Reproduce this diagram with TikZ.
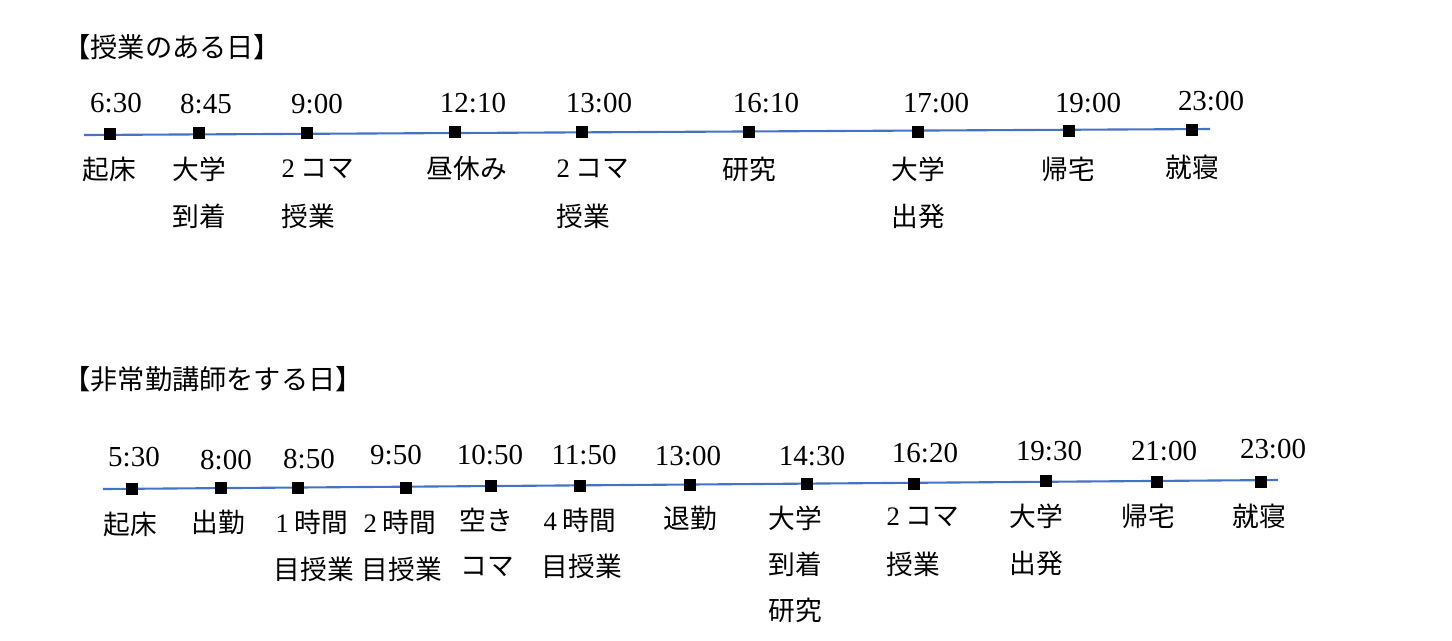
\documentclass[tikz,border=0pt]{standalone}
\usepackage{fontspec}
\setmainfont{Liberation Serif}
\newfontfamily\jp{Noto Sans CJK JP}
\definecolor{lineblue}{HTML}{4472C4}
\tikzset{
  tl/.style={line width=1.2pt,draw=lineblue},
  mk/.style={fill=black,draw=none,minimum size=0.25cm,inner sep=0pt,rectangle},
  tm/.style={font=\fontsize{16.5}{18}\selectfont,inner sep=0pt,anchor=center},
  lb/.style={font=\fontsize{15.2}{18}\selectfont\jp,inner sep=0pt,anchor=center},
  ttl/.style={font=\fontsize{15.5}{18}\selectfont\jp,inner sep=0pt,anchor=west}
}
\newcommand{\dg}[1]{{\fontspec{Liberation Serif}#1}}
\begin{document}
\begin{tikzpicture}[x=0.02cm,y=-0.02cm]
\useasboundingbox (0,0) rectangle (1452,640);
% ---------- top ----------
\node[ttl] (t1) at (63,47) {【授業のある日】};
\coordinate (a0) at (84,135);
\coordinate (a1) at (1210,129);
\draw[tl] (a0) -- (a1);
\foreach \n/\x/\y in {m1/110/134, m2/199/133, m3/307/133, m4/455/132, m5/582/132, m6/749/132, m7/918/132, m8/1069/131, m9/1192/130}
  \node[mk] (\n) at (\x,\y) {};
\foreach \n/\x/\y/\t in {h1/116/103/6:30, h2/206/104/8:45, h3/317/104/9:00, h4/473/103/12:10, h5/599/103/13:00, h6/766/103/16:10, h7/936/103/17:00, h8/1088/103/19:00, h9/1211/101/23:00}
  \node[tm] (\n) at (\x,\y) {\t};
\node[lb] (l1) at (109,169) {起床};
\node[lb] (l2a) at (199,169) {大学};
\node[lb] (l2b) at (199,216) {到着};
\node[lb] (l3a) at (318,169) {\dg{2} コマ};
\node[lb] (l3b) at (308,216) {授業};
\node[lb] (l4) at (467,168) {昼休み};
\node[lb] (l5a) at (593,169) {\dg{2} コマ};
\node[lb] (l5b) at (583,216) {授業};
\node[lb] (l6) at (749,169) {研究};
\node[lb] (l7a) at (918,169) {大学};
\node[lb] (l7b) at (918,216) {出発};
\node[lb] (l8) at (1068,169) {帰宅};
\node[lb] (l9) at (1192,167) {就寝};
% ---------- bottom ----------
\node[ttl] (t2) at (63,379) {【非常勤講師をする日】};
\coordinate (b0) at (103,489);
\coordinate (b1) at (1278,480);
\draw[tl] (b0) -- (b1);
\foreach \n/\x/\y in {n1/132/489, n2/221/488, n3/298/488, n4/406/488, n5/491/486, n6/580/486, n7/690/485, n8/807/484, n9/914/484, n10/1046/481, n11/1157/482, n12/1261/482}
  \node[mk] (\n) at (\x,\y) {};
\foreach \n/\x/\y/\t in {g1/134/457/5:30, g2/226/460/8:00, g3/309/459/8:50, g4/396/455/9:50, g5/490/455/10:50, g6/584/455/11:50, g7/688/456/13:00, g8/812/456/14:30, g9/925/453/16:20, g10/1049/451/19:30, g11/1164/451/21:00, g12/1273/449/23:00}
  \node[tm] (\n) at (\x,\y) {\t};
\node[lb] (k1) at (130,524) {起床};
\node[lb] (k2) at (218,522) {出勤};
\node[lb] (k3a) at (312,522) {\dg{1} 時間};
\node[lb] (k3b) at (314,569) {目授業};
\node[lb] (k4a) at (400,522) {\dg{2} 時間};
\node[lb] (k4b) at (402,569) {目授業};
\node[lb] (k5a) at (486,520) {空き};
\node[lb] (k5b) at (487,567) {コマ};
\node[lb] (k6a) at (580,520) {\dg{4} 時間};
\node[lb] (k6b) at (582,566) {目授業};
\node[lb] (k7) at (690,518) {退勤};
\node[lb] (k8a) at (795,518) {大学};
\node[lb] (k8b) at (795,564) {到着};
\node[lb] (k8c) at (795,610) {研究};
\node[lb] (k9a) at (923,517) {\dg{2} コマ};
\node[lb] (k9b) at (913,564) {授業};
\node[lb] (k10a) at (1036,516) {大学};
\node[lb] (k10b) at (1036,563) {出発};
\node[lb] (k11) at (1148,516) {帰宅};
\node[lb] (k12) at (1259,516) {就寝};
\end{tikzpicture}
\end{document}
